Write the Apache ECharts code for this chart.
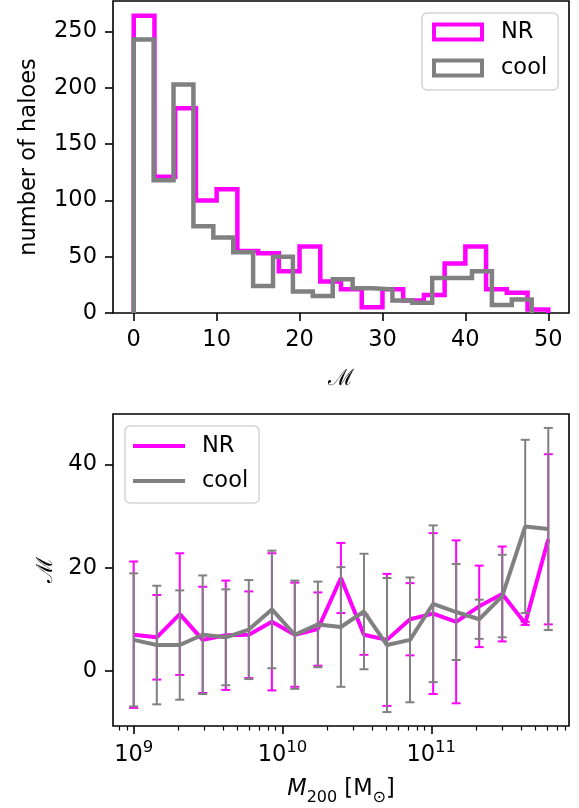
<!DOCTYPE html>
<html><head><meta charset="utf-8">
<script src="https://cdn.jsdelivr.net/npm/echarts@6/dist/echarts.min.js"></script>
<style>html,body{margin:0;padding:0;background:#fff}#c{width:579px;height:808px}</style>
</head><body><div id="c"></div>
<script>
// ---- top panel: histograms of ℳ ----
const histBinStartNR = 0;
const histBinWidthNR = 2.5;
const histCountsNR = [264, 121, 182, 100, 110, 55, 53, 37, 59, 28, 21, 5, 21, 11, 16, 44, 59, 21, 18, 3];
const histBinStartCool = 0;
const histBinWidthCool = 2.4;
const histCountsCool = [243, 118, 203, 77, 67, 54, 24, 50, 19, 15, 30, 22, 21, 11, 9, 31, 31, 37, 7, 12];
const histXTicks = [0, 10, 20, 30, 40, 50];
const histYTicks = [0, 50, 100, 150, 200, 250];

// ---- bottom panel: ℳ vs M200 ----
const massBins = [1.00e9, 1.43e9, 2.04e9, 2.91e9, 4.16e9, 5.94e9, 8.49e9, 1.21e10, 1.73e10, 2.47e10,
                  3.53e10, 5.04e10, 7.20e10, 1.03e11, 1.47e11, 2.10e11, 3.00e11, 4.28e11, 6.12e11];
const nrMean  = [7.0, 6.5, 11.0, 6.0, 6.9, 7.0, 9.5, 7.0, 8.1, 18.0, 7.0, 6.0, 10.0, 11.1, 9.5, 12.5, 14.9, 9.2, 25.5];
const nrErr   = [14.2, 8.2, 11.8, 10.3, 10.6, 8.4, 13.3, 10.1, 7.1, 6.8, 3.9, 12.8, 7.0, 15.6, 15.8, 7.9, 9.2, 0.3, 16.5];
const coolMean = [6.0, 5.0, 5.0, 7.0, 6.5, 8.0, 11.9, 7.0, 9.0, 8.5, 11.5, 5.0, 6.0, 13.0, 11.4, 10.0, 14.5, 28.0, 27.5];
const coolErr  = [12.9, 11.5, 10.6, 11.5, 9.3, 9.6, 11.4, 10.5, 8.3, 11.6, 11.2, 13.0, 12.1, 15.2, 9.3, 3.8, 8.0, 16.8, 19.6];
const lowerYTicks = [0, 20, 40];
const massMajorTicks = [1e9, 1e10, 1e11];

const C_NR = '#ff00ff', C_COOL = '#808080';
const FONT = 'DejaVu Sans';
const SCRIPT_FONT = 'DejaVu Serif';
const FS = 22.5;

function stepPath(start, width, counts) {
  const pts = [[start, 0]];
  counts.forEach((c, i) => { pts.push([start + i * width, c]); pts.push([start + (i + 1) * width, c]); });
  pts.push([start + counts.length * width, 0]);
  return pts;
}
const massMinorTicks = [];
[8, 9, 10, 11].forEach(e => { for (let k = 2; k <= 9; k++) massMinorTicks.push(k * Math.pow(10, e)); });

function errSeries(name, color, means, errs) {
  return {
    type: 'custom', name: name, xAxisIndex: 1, yAxisIndex: 1,
    data: massBins.map((m, i) => [m, means[i] - errs[i], means[i] + errs[i]]),
    encode: { x: 0, y: [1, 2] },
    renderItem: function (params, api) {
      const lo = api.coord([api.value(0), api.value(1)]);
      const hi = api.coord([api.value(0), api.value(2)]);
      const hw = 4.5;
      const style = { stroke: color, lineWidth: 2 };
      return { type: 'group', children: [
        { type: 'line', shape: { x1: lo[0], y1: lo[1], x2: hi[0], y2: hi[1] }, style: style },
        { type: 'line', shape: { x1: lo[0] - hw, y1: lo[1], x2: lo[0] + hw, y2: lo[1] }, style: style },
        { type: 'line', shape: { x1: hi[0] - hw, y1: hi[1], x2: hi[0] + hw, y2: hi[1] }, style: style }
      ]};
    }
  };
}

const tickStyle = { color: '#000', width: 1.6 };
const labelStyle = { color: '#000', fontFamily: FONT, fontSize: FS };
const noLine = { show: false, onZero: false };

const chart = echarts.init(document.getElementById('c'), null, { renderer: 'canvas' });
chart.setOption({
  animation: false,
  backgroundColor: '#fff',
  textStyle: { fontFamily: FONT },
  grid: [
    { left: 113, top: 1, width: 456, height: 312, show: true, borderColor: '#000', borderWidth: 1.6, backgroundColor: 'transparent' },
    { left: 113, top: 414, width: 456, height: 312, show: true, borderColor: '#000', borderWidth: 1.6, backgroundColor: 'transparent' }
  ],
  legend: [
    { left: 422, top: 13, orient: 'vertical', padding: [7, 11, 10, 10], itemGap: 12,
      itemWidth: 48, itemHeight: 15, icon: 'rect',
      borderColor: '#d3d3d3', borderWidth: 1.5, borderRadius: 5, backgroundColor: 'rgba(255,255,255,0.8)',
      textStyle: { fontFamily: FONT, fontSize: FS, color: '#000', lineHeight: 24, padding: [0, 0, 0, 14] },
      selectedMode: false,
      data: [
        { name: 'NR', icon: 'rect', itemStyle: { color: 'rgba(0,0,0,0)', borderColor: C_NR, borderWidth: 4 } },
        { name: 'cool', icon: 'rect', itemStyle: { color: 'rgba(0,0,0,0)', borderColor: C_COOL, borderWidth: 4 } }
      ] },
    { left: 125, top: 426, orient: 'vertical', padding: [8, 11, 10, 8], itemGap: 11,
      itemWidth: 52, itemHeight: 4, icon: 'rect',
      borderColor: '#d3d3d3', borderWidth: 1.5, borderRadius: 5, backgroundColor: 'rgba(255,255,255,0.8)',
      textStyle: { fontFamily: FONT, fontSize: FS, color: '#000', lineHeight: 24, padding: [0, 0, 0, 12] },
      selectedMode: false,
      data: [
        { name: 'NR', icon: 'rect', itemStyle: { color: C_NR, borderWidth: 0 } },
        { name: 'cool', icon: 'rect', itemStyle: { color: C_COOL, borderWidth: 0 } }
      ] }
  ],
  xAxis: [
    { type: 'value', gridIndex: 0, position: 'bottom', min: -2.5, max: 52.5,
      axisLine: noLine, splitLine: { show: false },
      axisTick: { show: true, length: 8, lineStyle: tickStyle, customValues: histXTicks },
      axisLabel: Object.assign({ margin: 16, customValues: histXTicks }, labelStyle),
      name: 'ℳ', nameLocation: 'middle', nameGap: 55,
      nameTextStyle: { fontFamily: SCRIPT_FONT, fontSize: FS, color: '#000' } },
    { type: 'log', gridIndex: 1, position: 'bottom', logBase: 10, min: 7.26e8, max: 8.43e11,
      axisLine: noLine, splitLine: { show: false }, minorTick: { show: false },
      axisTick: { show: true, length: 8, lineStyle: tickStyle, customValues: massMajorTicks },
      axisLabel: { margin: 13, customValues: massMajorTicks, color: '#000',
        formatter: function (v) { return '{b|10}{s|' + Math.round(Math.log10(v)) + '}'; },
        rich: { b: { fontFamily: FONT, fontSize: FS, color: '#000', lineHeight: 28, verticalAlign: 'bottom' },
                s: { fontFamily: FONT, fontSize: 16.5, color: '#000', lineHeight: 16, verticalAlign: 'top' } } },
      name: '{i|M}{sub|200}{n| [M}{sub|⊙}{n|]}', nameLocation: 'middle', nameGap: 52,
      nameTextStyle: { color: '#000', rich: {
        i: { fontFamily: FONT, fontSize: FS, fontStyle: 'italic', color: '#000', lineHeight: 28, verticalAlign: 'top' },
        n: { fontFamily: FONT, fontSize: FS, color: '#000', lineHeight: 28, verticalAlign: 'top' },
        sub: { fontFamily: FONT, fontSize: 16, color: '#000', lineHeight: 16, verticalAlign: 'bottom' } } } },
    { type: 'log', gridIndex: 1, position: 'bottom', offset: 0, logBase: 10, min: 7.26e8, max: 8.43e11,
      axisLine: noLine, splitLine: { show: false },
      axisTick: { show: true, length: 4.5, lineStyle: { color: '#000', width: 1.2 }, customValues: massMinorTicks },
      axisLabel: { show: false } }
  ],
  yAxis: [
    { type: 'value', gridIndex: 0, position: 'left', min: 0, max: 277.2,
      axisLine: noLine, splitLine: { show: false },
      axisTick: { show: true, length: 8, lineStyle: tickStyle, customValues: histYTicks },
      axisLabel: Object.assign({ margin: 16, customValues: histYTicks }, labelStyle),
      name: 'number of haloes', nameLocation: 'middle', nameRotate: 90, nameGap: 72,
      nameTextStyle: { fontFamily: FONT, fontSize: FS, color: '#000' } },
    { type: 'value', gridIndex: 1, position: 'left', min: -10.7, max: 49.8,
      axisLine: noLine, splitLine: { show: false },
      axisTick: { show: true, length: 8, lineStyle: tickStyle, customValues: lowerYTicks },
      axisLabel: Object.assign({ margin: 16, customValues: lowerYTicks }, labelStyle),
      name: 'ℳ', nameLocation: 'middle', nameRotate: 90, nameGap: 54,
      nameTextStyle: { fontFamily: SCRIPT_FONT, fontSize: FS, color: '#000' } }
  ],
  series: [
    { type: 'line', name: 'NR', xAxisIndex: 0, yAxisIndex: 0, data: stepPath(histBinStartNR, histBinWidthNR, histCountsNR),
      symbol: 'none', lineStyle: { color: C_NR, width: 4.5, join: 'miter', cap: 'butt' }, itemStyle: { color: C_NR }, z: 3 },
    { type: 'line', name: 'cool', xAxisIndex: 0, yAxisIndex: 0, data: stepPath(histBinStartCool, histBinWidthCool, histCountsCool),
      symbol: 'none', lineStyle: { color: C_COOL, width: 4.5, join: 'miter', cap: 'butt' }, itemStyle: { color: C_COOL }, z: 4 },
    Object.assign(errSeries('NR err', C_NR, nrMean, nrErr), { z: 3 }),
    { type: 'line', name: 'NR', xAxisIndex: 1, yAxisIndex: 1, data: massBins.map((m, i) => [m, nrMean[i]]),
      symbol: 'none', lineStyle: { color: C_NR, width: 4 }, itemStyle: { color: C_NR }, z: 4 },
    Object.assign(errSeries('cool err', C_COOL, coolMean, coolErr), { z: 5 }),
    { type: 'line', name: 'cool', xAxisIndex: 1, yAxisIndex: 1, data: massBins.map((m, i) => [m, coolMean[i]]),
      symbol: 'none', lineStyle: { color: C_COOL, width: 4 }, itemStyle: { color: C_COOL }, z: 6 }
  ]
});
</script></body></html>
